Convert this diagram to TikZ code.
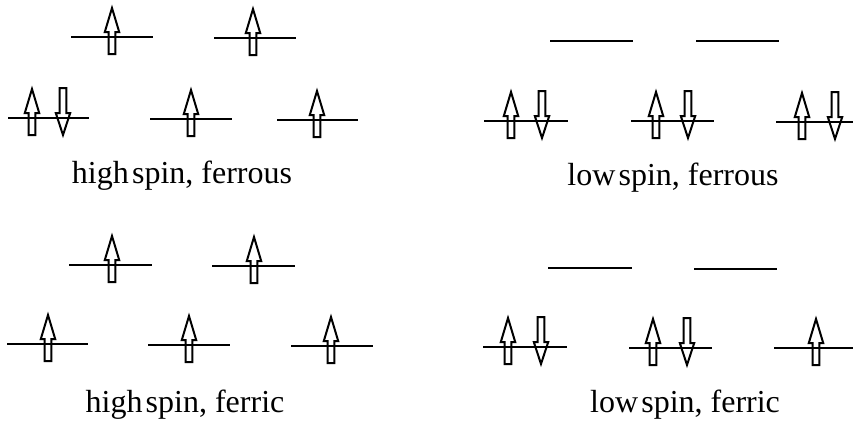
\documentclass[tikz,border=0pt]{standalone}
\usepackage{fontspec}
\setmainfont{Liberation Serif}
\tikzset{
  level/.style={line width=2.2pt},
  spin/.style={line width=2pt, line join=miter},
  caption/.style={anchor=base, inner sep=0pt, font=\fontsize{32}{36}\selectfont},
  pics/spinup/.style={code={
    \draw[spin] (-3.4,17)--(-3.4,-5)--(-7.2,-5)--(0,-29)--(7.2,-5)--(3.4,-5)--(3.4,17)--cycle;}},
  pics/spindown/.style={code={
    \draw[spin] (-3.4,-30)--(-3.4,-5)--(-7.2,-5)--(0,17)--(7.2,-5)--(3.4,-5)--(3.4,-30)--cycle;}},
}
\begin{document}
\begin{tikzpicture}
[x=1pt, y=-1pt]
\useasboundingbox (0,0) rectangle (853,423);

% high spin, ferrous
\draw[level] (71,37) -- (153,37);   \pic at (112,37) {spinup};
\draw[level] (214,38) -- (296,38);  \pic at (253,38) {spinup};
\draw[level] (8,118) -- (89,118);   \pic at (32,118) {spinup}; \pic at (63,118) {spindown};
\draw[level] (150,119) -- (232,119); \pic at (191,119) {spinup};
\draw[level] (277,120) -- (358,120); \pic at (317,120) {spinup};
\node[caption] (HSfe2) at (182,183) {high\hspace{0.1em}spin, ferrous};

% low spin, ferrous
\draw[level] (550,41) -- (633,41);
\draw[level] (696,41) -- (779,41);
\draw[level] (484,121) -- (568,121); \pic at (511,121) {spinup}; \pic at (542,121) {spindown};
\draw[level] (631,121) -- (714,121); \pic at (656,121) {spinup}; \pic at (688,121) {spindown};
\draw[level] (776,122) -- (853,122); \pic at (802,122) {spinup}; \pic at (835,122) {spindown};
\node[caption] (LSfe2) at (673,185) {low\hspace{0.1em}spin, ferrous};

% high spin, ferric
\draw[level] (69,265) -- (152,265);  \pic at (112,265) {spinup};
\draw[level] (212,266) -- (295,266); \pic at (254,266) {spinup};
\draw[level] (7,344) -- (88,344);    \pic at (48,344) {spinup};
\draw[level] (148,345) -- (230,345); \pic at (189,345) {spinup};
\draw[level] (291,346) -- (373,346); \pic at (331,346) {spinup};
\node[caption] (HSfe3) at (185,412) {high\hspace{0.1em}spin, ferric};

% low spin, ferric
\draw[level] (548,268) -- (632,268);
\draw[level] (694,269) -- (777,269);
\draw[level] (483,347) -- (567,347); \pic at (508,347) {spinup}; \pic at (541,347) {spindown};
\draw[level] (629,348) -- (712,348); \pic at (653,348) {spinup}; \pic at (687,348) {spindown};
\draw[level] (774,348) -- (853,348); \pic at (816,348) {spinup};
\node[caption] (LSfe3) at (685,412) {low\hspace{0.1em}spin, ferric};

\end{tikzpicture}
\end{document}
